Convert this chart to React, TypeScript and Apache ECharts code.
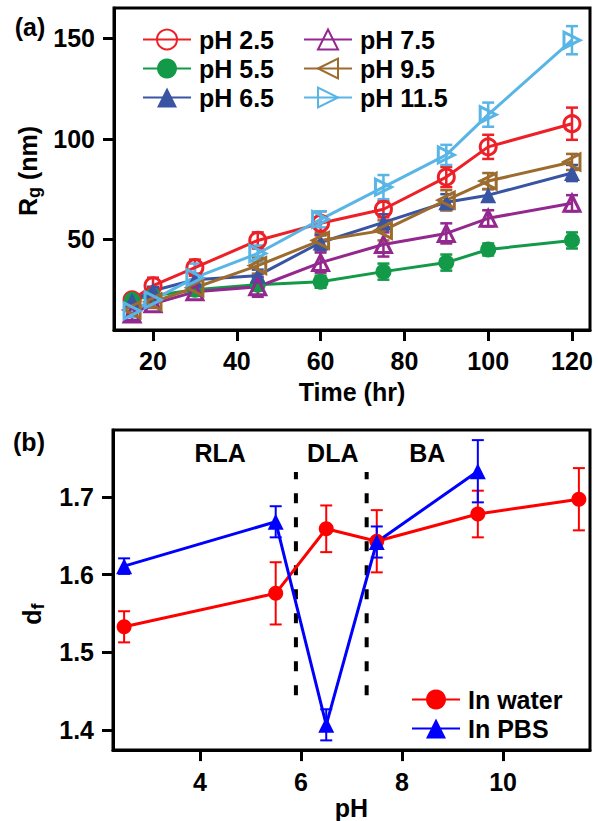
import React, { useEffect, useRef } from 'react';
import * as echarts from 'echarts';

const FONT = '"Liberation Sans", Arial, sans-serif';

// ---- Panel (a): Rg vs time ----
const TIME_HR = [15, 20, 30, 45, 60, 75, 90, 100, 120];
const PH_LABELS = ['pH 2.5', 'pH 5.5', 'pH 6.5', 'pH 7.5', 'pH 9.5', 'pH 11.5'];
const RG_PH25 = [20, 27, 36, 49.5, 58, 65, 81, 96, 107.5];
const RG_PH55 = [20, 22, 25, 27.5, 29, 34, 38.5, 45, 49.5];
const RG_PH65 = [19.5, 24.5, 30, 32, 48.5, 58.5, 68.5, 72, 83];
const RG_PH75 = [13, 18, 24, 26.5, 38.5, 47.5, 53, 60.5, 68];
const RG_PH95 = [15, 19, 26, 37, 49.5, 54.5, 69.5, 79, 88.5];
const RG_PH115 = [14.5, 20, 31, 43, 60, 76, 92, 112, 149];
const ERR_PH25 = [2, 4, 4, 4, 6, 4, 5, 6, 8];
const ERR_PH55 = [2, 2, 2, 3, 3, 4, 4, 3, 4];
const ERR_PH65 = [2, 2, 3, 3, 4, 4, 4, 3, 4];
const ERR_PH75 = [3, 2, 2, 5, 5, 6, 5, 4, 4];
const ERR_PH95 = [2, 3, 4, 4, 4, 5, 5, 4, 4];
const ERR_PH115 = [3, 3, 7, 4, 4, 6, 5, 6, 7];
const X_TICKS_A = [20, 40, 60, 80, 100, 120];
const Y_TICKS_A = [50, 100, 150];

// ---- Panel (b): df vs pH ----
const PH_WATER = [2.5, 5.5, 6.5, 7.5, 9.5, 11.5];
const DF_WATER = [1.533, 1.576, 1.659, 1.643, 1.678, 1.697];
const DF_WATER_ERR = [0.02, 0.04, 0.03, 0.04, 0.03, 0.04];
const PH_PBS = [2.5, 5.5, 6.5, 7.5, 9.5];
const DF_PBS = [1.611, 1.668, 1.407, 1.642, 1.733];
const DF_PBS_ERR = [0.01, 0.02, 0.02, 0.02, 0.04];
const X_TICKS_B = [4, 6, 8, 10];
const Y_TICKS_B = [1.4, 1.5, 1.6, 1.7];
const REGIME_BOUNDS = [5.9, 7.3];
const REGIME_SPAN = [1.445, 1.732];
const REGIME_NAMES = ['RLA', 'DLA', 'BA'];
const REGIME_X = [4.4, 6.63, 8.5];
const REGIME_Y = 1.757;

const SERIES_A = [
  { name: PH_LABELS[0], y: RG_PH25, e: ERR_PH25, color: '#EE2027', symbol: 'circle', hollow: true, rot: 0 },
  { name: PH_LABELS[1], y: RG_PH55, e: ERR_PH55, color: '#129A48', symbol: 'circle', hollow: false, rot: 0 },
  { name: PH_LABELS[2], y: RG_PH65, e: ERR_PH65, color: '#3A54A4', symbol: 'triangle', hollow: false, rot: 0 },
  { name: PH_LABELS[3], y: RG_PH75, e: ERR_PH75, color: '#93288F', symbol: 'triangle', hollow: true, rot: 0 },
  { name: PH_LABELS[4], y: RG_PH95, e: ERR_PH95, color: '#9C6B2E', symbol: 'triangle', hollow: true, rot: 90 },
  { name: PH_LABELS[5], y: RG_PH115, e: ERR_PH115, color: '#58B5E6', symbol: 'triangle', hollow: true, rot: -90 },
];

function errRender(color: string, width: number, cap: number) {
  return (params: any, api: any) => {
    const x = api.value(0);
    const lo = api.value(1);
    const hi = api.value(2);
    const p1 = api.coord([x, lo]);
    const p2 = api.coord([x, hi]);
    const style = { stroke: color, lineWidth: width, fill: 'none' };
    return {
      type: 'group',
      children: [
        { type: 'line', shape: { x1: p1[0], y1: p1[1], x2: p2[0], y2: p2[1] }, style },
        { type: 'line', shape: { x1: p1[0] - cap, y1: p1[1], x2: p1[0] + cap, y2: p1[1] }, style },
        { type: 'line', shape: { x1: p2[0] - cap, y1: p2[1], x2: p2[0] + cap, y2: p2[1] }, style },
      ],
    };
  };
}

const baseAxis = {
  axisLine: { show: true, onZero: false, lineStyle: { color: '#000', width: 3 } },
  splitLine: { show: false },
};
function tickCfg(values: number[]) {
  return { show: true, inside: false, length: 11, customValues: values, lineStyle: { color: '#000', width: 3 } };
}
function labelCfg(values: number[], margin: number, fmt?: (v: number) => string) {
  const c: any = { show: true, customValues: values, margin, color: '#000', fontSize: 25, fontWeight: 'bold', fontFamily: FONT };
  if (fmt) c.formatter = fmt;
  return c;
}

const textBold = { color: '#000', fontSize: 25, fontWeight: 'bold', fontFamily: FONT };

export default function App() {
  const ref = useRef<HTMLDivElement>(null);
  useEffect(() => {
    document.body.style.margin = '0';
    if (!ref.current) return;
    const chart = echarts.init(ref.current, undefined, { renderer: 'svg' });

    const series: any[] = [];
    SERIES_A.forEach((s) => {
      series.push({
        type: 'custom',
        xAxisIndex: 0,
        yAxisIndex: 0,
        renderItem: errRender(s.color, 2.5, 6),
        data: TIME_HR.map((t, i) => [t, s.y[i] - s.e[i], s.y[i] + s.e[i]]),
        encode: { x: 0, y: [1, 2] },
        silent: true,
        z: 2,
      });
      series.push({
        type: 'line',
        name: s.name,
        xAxisIndex: 0,
        yAxisIndex: 0,
        data: TIME_HR.map((t, i) => [t, s.y[i]]),
        symbol: s.symbol,
        symbolSize: 16,
        symbolRotate: s.rot,
        showAllSymbol: true,
        lineStyle: { color: s.color, width: 3 },
        itemStyle: s.hollow
          ? { color: 'rgba(255,255,255,0)', borderColor: s.color, borderWidth: 3 }
          : { color: s.color, borderColor: s.color, borderWidth: 0 },
        z: 3,
      });
    });

    // panel b
    series.push({
      type: 'custom',
      xAxisIndex: 1,
      yAxisIndex: 1,
      renderItem: errRender('#FF0000', 2, 6),
      data: PH_WATER.map((p, i) => [p, DF_WATER[i] - DF_WATER_ERR[i], DF_WATER[i] + DF_WATER_ERR[i]]),
      encode: { x: 0, y: [1, 2] },
      silent: true,
      z: 2,
    });
    series.push({
      type: 'custom',
      xAxisIndex: 1,
      yAxisIndex: 1,
      renderItem: errRender('#0000FF', 2, 6),
      data: PH_PBS.map((p, i) => [p, DF_PBS[i] - DF_PBS_ERR[i], DF_PBS[i] + DF_PBS_ERR[i]]),
      encode: { x: 0, y: [1, 2] },
      silent: true,
      z: 2,
    });
    REGIME_BOUNDS.forEach((b) => {
      series.push({
        type: 'line',
        xAxisIndex: 1,
        yAxisIndex: 1,
        data: [[b, REGIME_SPAN[0]], [b, REGIME_SPAN[1]]],
        symbol: 'none',
        lineStyle: { color: '#000', width: 4, type: [10, 14] },
        silent: true,
        z: 1,
      });
    });
    series.push({
      type: 'line',
      name: 'In water',
      xAxisIndex: 1,
      yAxisIndex: 1,
      data: PH_WATER.map((p, i) => [p, DF_WATER[i]]),
      symbol: 'circle',
      symbolSize: 15,
      lineStyle: { color: '#FF0000', width: 3 },
      itemStyle: { color: '#FF0000' },
      z: 3,
    });
    series.push({
      type: 'line',
      name: 'In PBS',
      xAxisIndex: 1,
      yAxisIndex: 1,
      data: PH_PBS.map((p, i) => [p, DF_PBS[i]]),
      symbol: 'triangle',
      symbolSize: 16,
      lineStyle: { color: '#0000FF', width: 3 },
      itemStyle: { color: '#0000FF' },
      z: 3,
    });
    series.push({
      type: 'scatter',
      xAxisIndex: 1,
      yAxisIndex: 1,
      symbolSize: 1,
      silent: true,
      itemStyle: { color: 'rgba(0,0,0,0)' },
      data: REGIME_NAMES.map((n, i) => ({ name: n, value: [REGIME_X[i], REGIME_Y] })),
      label: {
        show: true, position: 'inside', formatter: '{b}', ...textBold,
        textBorderWidth: 0, textBorderColor: 'transparent', opacity: 1,
      },
      z: 4,
    });

    const legendCommon = {
      orient: 'vertical',
      itemWidth: 48,
      itemHeight: 25,
      itemGap: 4,
      selectedMode: false,
      textStyle: { ...textBold, padding: [0, 0, 0, 3] },
    };

    const richSub = (main: string, sub: string, rest: string) => ({
      text: `{m|${main}}{s|${sub}}{m|${rest}}`,
      rich: {
        m: { fontSize: 25, fontWeight: 'bold', fontFamily: FONT, fill: '#000', lineHeight: 30 },
        s: { fontSize: 18, fontWeight: 'bold', fontFamily: FONT, fill: '#000', lineHeight: 16, verticalAlign: 'bottom' },
      },
      align: 'center',
      verticalAlign: 'middle',
    });

    chart.setOption({
      animation: false,
      grid: [
        { left: 114, right: 8, top: 8, height: 322, show: true, borderColor: '#000', borderWidth: 3, backgroundColor: 'transparent' },
        { left: 113, right: 8, top: 430, height: 322, show: true, borderColor: '#000', borderWidth: 3, backgroundColor: 'transparent' },
      ],
      xAxis: [
        {
          type: 'value', gridIndex: 0, min: 10.69, max: 124.3, ...baseAxis,
          axisTick: tickCfg(X_TICKS_A), axisLabel: labelCfg(X_TICKS_A, 18),
          name: 'Time (hr)', nameLocation: 'middle', nameGap: 49, nameTextStyle: textBold,
        },
        {
          type: 'value', gridIndex: 1, min: 2.28, max: 11.72, ...baseAxis,
          axisTick: tickCfg(X_TICKS_B), axisLabel: labelCfg(X_TICKS_B, 19),
          name: 'pH', nameLocation: 'middle', nameGap: 42, nameTextStyle: textBold,
        },
      ],
      yAxis: [
        {
          type: 'value', gridIndex: 0, min: 5, max: 165, ...baseAxis,
          axisTick: tickCfg(Y_TICKS_A), axisLabel: labelCfg(Y_TICKS_A, 19),
        },
        {
          type: 'value', gridIndex: 1, min: 1.3745, max: 1.786, ...baseAxis,
          axisTick: tickCfg(Y_TICKS_B), axisLabel: labelCfg(Y_TICKS_B, 19, (v: number) => v.toFixed(1)),
        },
      ],
      legend: [
        { ...legendCommon, left: 137, top: 22, data: PH_LABELS.slice(0, 3) },
        { ...legendCommon, left: 298, top: 22, data: PH_LABELS.slice(3) },
        { ...legendCommon, left: 406, top: 682, data: ['In water', 'In PBS'] },
      ],
      graphic: [
        { type: 'text', x: 30, y: 27, style: { text: '(a)', fill: '#000', font: `bold 25px ${FONT}`, align: 'center', verticalAlign: 'middle' } },
        { type: 'text', x: 29, y: 442, style: { text: '(b)', fill: '#000', font: `bold 25px ${FONT}`, align: 'center', verticalAlign: 'middle' } },
        { type: 'text', x: 28, y: 171, rotation: Math.PI / 2, style: richSub('R', 'g', ' (nm)') },
        { type: 'text', x: 32, y: 614, rotation: Math.PI / 2, style: richSub('d', 'f', '') },
      ],
      series,
    });
    return () => chart.dispose();
  }, []);
  return <div ref={ref} style={{ width: 598, height: 821, position: 'absolute', left: 0, top: 0 }} />;
}
